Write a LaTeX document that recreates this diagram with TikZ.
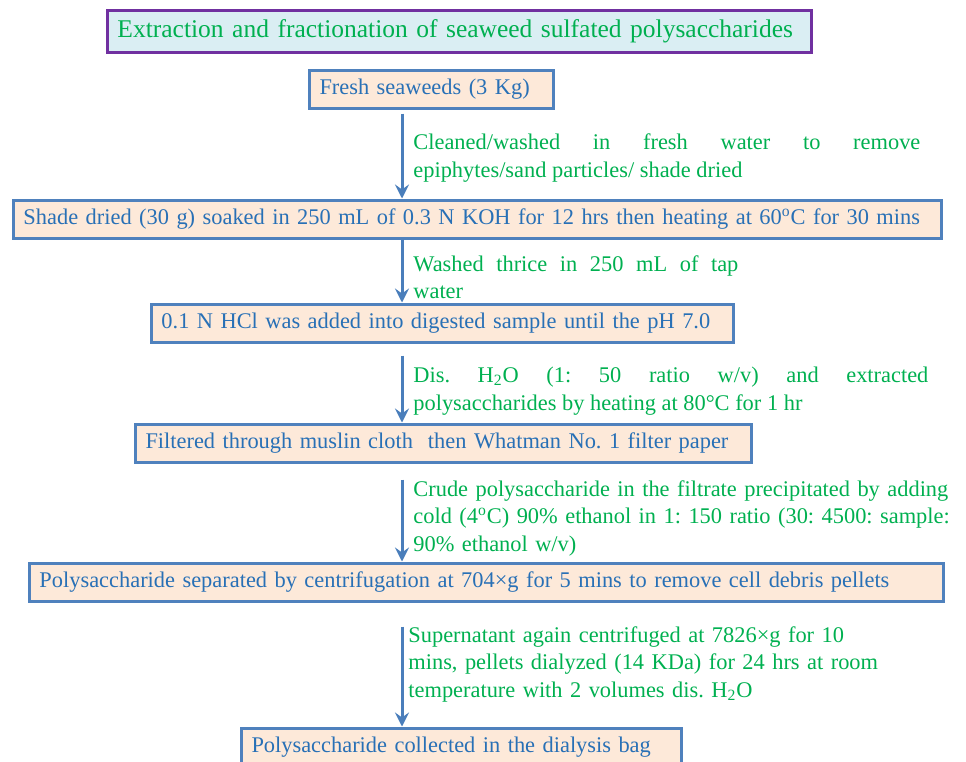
\documentclass[tikz,border=0pt]{standalone}
\usepackage{fontspec}
\setmainfont{Liberation Serif}
\usetikzlibrary{shapes,calc,arrows.meta}
\definecolor{boxblue}{RGB}{79,129,189}
\definecolor{peach}{RGB}{253,233,217}
\definecolor{textblue}{RGB}{40,112,182}
\definecolor{notegreen}{RGB}{0,176,80}
\definecolor{titlepurple}{RGB}{112,48,160}
\definecolor{titlecyan}{RGB}{218,238,243}
\definecolor{arrowblue}{RGB}{74,126,187}
\hyphenpenalty=10000
\exhyphenpenalty=10000
\frenchspacing

\begin{document}
\begin{tikzpicture}[x=0.5pt,y=-0.5pt]
			\tikzstyle{stepbox}=[rectangle, draw=boxblue, line width=1.5pt, fill=peach, text=textblue, anchor=west, minimum height=19pt, inner xsep=5pt, inner ysep=2pt, align=left, font=\fontsize{11.2}{13.5}\selectfont]
			\tikzstyle{titlebox}=[stepbox, draw=titlepurple, fill=titlecyan, text=notegreen, minimum height=21pt, font=\fontsize{12.75}{15}\selectfont]
			\tikzstyle{notetext}=[anchor=west, inner sep=0pt, text=notegreen, align=justify, font=\fontsize{11.2}{13.75}\selectfont]
			\tikzstyle{flow}=[draw=arrowblue, line width=1.5pt, -{Stealth[length=7pt,width=7pt,inset=2.5pt]}]
			\useasboundingbox (0,0) rectangle (966,762);
			\coordinate (axis) at (402,0);
			% boxes
			\node[titlebox, text width=342pt] (title) at (106,31) {\mbox{Extraction and fractionation of seaweed sulfated polysaccharides}};
			\node[stepbox, text width=112pt] (fresh) at (308,89) {\mbox{Fresh seaweeds (3 Kg)}};
			\node[stepbox, text width=454pt] (shade) at (12,219) {\mbox{Shade dried (30 g) soaked in 250 mL of 0.3 N KOH for 12 hrs then heating at 60\textsuperscript{o}C for 30 mins}};
			\node[stepbox, text width=281pt] (hcl) at (150,323) {\mbox{0.1 N HCl was added into digested sample until the pH 7.0}};
			\node[stepbox, text width=298pt] (filter) at (134,443) {\mbox{Filtered through muslin cloth\ \ then Whatman No. 1 filter paper}};
			\node[stepbox, text width=447pt] (sep) at (28,582) {\mbox{Polysaccharide separated by centrifugation at 704×g for 5 mins to remove cell debris pellets}};
			\node[stepbox, text width=210pt] (coll) at (240,747) {\mbox{Polysaccharide collected in the dialysis bag}};
			% notes beside the arrows
			\node[notetext, text width=253.5pt] (wash) at (413,158) {Cleaned/washed in fresh water to remove\linebreak epiphytes/sand particles/ shade dried};
			\node[notetext, text width=162.5pt] (rinse) at (413,277) {Washed thrice in 250 mL of tap\linebreak water};
			\node[notetext, text width=257.5pt] (extract) at (413,391) {Dis. H\textsubscript{2}O (1: 50 ratio w/v) and extracted\linebreak polysaccharides by heating at 80°C for 1 hr};
			\node[notetext, text width=280pt, align=left] (precip) at (413,518) {Crude polysaccharide in the filtrate precipitated by adding\\cold (4\textsuperscript{o}C) 90\% ethanol in 1: 150 ratio (30: 4500: sample:\\90\% ethanol w/v)};
			\node[notetext, text width=260pt, align=left] (dialyse) at (408,664) {Supernatant again centrifuged at 7826×g for 10\\mins, pellets dialyzed (14 KDa) for 24 hrs at room\\temperature with 2 volumes dis. H\textsubscript{2}O};
			% arrows
			\draw[flow, shorten <=2pt] (fresh.south -| axis) -- (shade.north -| axis);
			\draw[flow] (shade.south -| axis) -- (hcl.north -| axis);
			\draw[flow, shorten <=6pt] (hcl.south -| axis) -- (filter.north -| axis);
			\draw[flow, shorten <=8pt] (filter.south -| axis) -- (sep.north -| axis);
			\draw[flow, shorten <=12pt] (sep.south -| axis) -- (coll.north -| axis);
		\end{tikzpicture}
\end{document}
